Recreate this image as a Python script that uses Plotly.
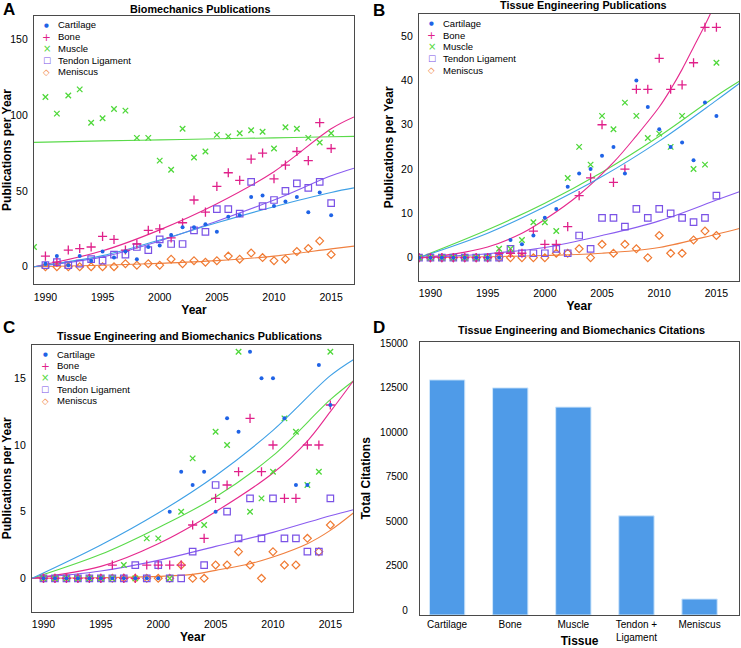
import plotly.graph_objects as go

# ---------------- data ----------------
years = list(range(1989, 2016))

# Panel A: Biomechanics publications per year
bio_cartilage = [None, 2, 7, 1, 7, 4, 10, 6, 10, 5, 13, 14, 21, 26, 26, 28, 23, 33, 34, 46, 47, 40, 43, 46, 36, 49, 34]
bio_bone = [None, 7, 3, 11, 12, 13, 20, 18, 11, 15, 24, 25, 19, 29, 44, 36, 53, 62, 57, 71, 75, 58, 67, 76, 70, 95, 78]
bio_muscle = [13, 112, 101, 113, 117, 95, 98, 104, 103, 85, 85, 70, 64, 91, 72, 76, 87, 86, 88, 90, 89, 78, 92, 91, 85, 82, 88]
bio_tendon = [None, 1, 3, 1, 2, 5, 4, 8, 8, 13, 11, 18, 15, 15, 24, 23, 38, 38, 35, 56, 40, 44, 50, 55, 52, 56, 42]
bio_meniscus = [None, 0, 0, 0, 0, 0, 0, 0, 2, 1, 2, 1, 5, 2, 4, 3, 4, 7, 5, 9, 6, 4, 5, 10, 12, 17, 8]

# Panel B: Tissue engineering publications per year
te_cartilage = [0, 0, 0, 0, 0, 0, 0, 0, 4, 3, 5, 9, 11, 16, 19, 20, 23, 25, 19, 40, 34, 29, 25, 26, 22, 35, 32]
te_bone = [0, 0, 0, 0, 0, 0, 0, 1, 1, 1, 6, 3, 3, 7, 14, 18, 30, 17, 20, 38, 38, 45, 38, 39, 44, 52, 52]
te_muscle = [0, 0, 0, 0, 0, 0, 0, 2, 2, 4, 8, 8, 6, 18, 25, 21, 32, 29, 35, 32, 27, 28, 25, 32, 20, 21, 44]
te_tendon = [0, 0, 0, 0, 0, 0, 0, 0, 2, 1, 1, 1, 2, 1, 5, 2, 9, 9, 7, 11, 9, 11, 10, 9, 8, 9, 14]
te_meniscus = [0, 0, 0, 0, 0, 0, 0, 0, 0, 0, 0, 0, 1, 1, 2, 0, 3, 1, 3, 2, 0, 5, 1, 1, 4, 6, 5]

# Panel C: Tissue engineering AND biomechanics publications per year
both_cartilage = [None, 0, 0, 0, 0, 0, 0, 0, 0, 0, 0, 0, 5, 8, 7, 8, 5, 12, 11, 17, 15, 15, 12, 7, 7, 16, 13]
both_bone = [None, 0, 0, 0, 0, 0, 0, 1, 0, 0, 1, 1, 1, 1, 4, 3, 6, 7, 8, 12, 8, 10, 6, 6, 10, 10, 13]
both_muscle = [None, 0, 0, 0, 0, 0, 0, 0, 1, 0, 3, 3, 0, 5, 9, 4, 11, 10, 17, 5, 6, 8, 12, 11, 7, 8, 17]
both_tendon = [None, 0, 0, 0, 0, 0, 0, 0, 0, 1, 0, 1, 0, 0, 2, 1, 7, 5, 3, 6, 3, 6, 3, 3, 2, 2, 6]
both_meniscus = [None, 0, 0, 0, 0, 0, 0, 0, 0, 0, 0, 0, 0, 1, 0, 0, 1, 1, 2, 1, 0, 2, 1, 1, 3, 2, 4]

# Fitted trend curves
fit_years = [1989, 1995, 2000, 2005, 2010, 2015, 2017]
fitA_cartilage = [0, 7.3, 17.6, 29, 39.6, 49, 52]
fitA_bone = [0, 10.5, 24.3, 41.5, 62.7, 91, 98.8]
fitA_muscle = [82, 83, 83.7, 84.4, 85, 85.7, 86]
fitA_tendon = [0, 6.5, 17, 30, 44, 60, 65]
fitA_meniscus = [0, 1, 2.2, 4, 7, 11.8, 13.6]

fitB_cartilage = [0, 5.5, 11.5, 18.3, 26.3, 35.5, 39.3]
fitB_muscle = [0, 6.3, 12.3, 19.3, 27.4, 36.5, 39.8]
fitB_tendon = [0, 0.9, 2.3, 5, 8.3, 13, 14.9]
fitB_meniscus = [0, 0.2, 0.5, 1.0, 2.3, 5.3, 6.6]
fitB_bone_years = [1989, 1992, 1995, 1998, 2000, 2003, 2006, 2008, 2010, 2011, 2012, 2013, 2014, 2015, 2017]
fitB_bone = [0, 0.8, 2.4, 5.5, 8.6, 14.2, 21.5, 27.5, 34, 38, 42.5, 47.5, 52.5, 58, 70]

fitC_cartilage = [0, 2.5, 4.9, 7.7, 11.1, 15.2, 16.4]
fitC_muscle = [0, 1.8, 3.8, 6.1, 9.2, 13.4, 14.8]
fitC_tendon = [0, 0.55, 1.35, 2.4, 3.45, 4.7, 5.15]
fitC_bone_years = [1989, 1995, 2000, 2005, 2010, 2013, 2015, 2017]
fitC_bone = [0, 0.9, 2.6, 5.0, 7.9, 10.3, 12.5, 14.8]
fitC_meniscus_years = [1989, 1995, 2000, 2003, 2005, 2008, 2010, 2013, 2015, 2017]
fitC_meniscus = [0, 0.05, 0.15, 0.3, 0.6, 1.1, 1.6, 2.6, 3.6, 4.9]

# Panel D: total citations
tissues = ["Cartilage", "Bone", "Muscle", "Tendon +<br>Ligament", "Meniscus"]
citations = [12950, 12500, 11420, 5300, 620]

series_names = ["Cartilage", "Bone", "Muscle", "Tendon Ligament", "Meniscus"]

# ---------------- style ----------------
W, H = 741, 648
FONT = "Liberation Sans, Arial, Helvetica, sans-serif"
C_CART = "#1f63e6"
C_BONE = "#e0208a"
C_MUSC = "#4fd83a"
C_TEND = "#7a52e6"
C_MENI = "#f07a32"
L_CART = "#3fa0e6"
L_BONE = "#e62a8e"
L_MUSC = "#5ada4a"
L_TEND = "#8a5cf0"
L_MENI = "#f08040"

marker_styles = [
    dict(symbol="circle", size=4, color=C_CART, line=dict(width=0)),
    dict(symbol="cross-thin", size=6.5, color=C_BONE, line=dict(width=1.3, color=C_BONE)),
    dict(symbol="x-thin", size=5.5, color=C_MUSC, line=dict(width=1.3, color=C_MUSC)),
    dict(symbol="square-open", size=6.5, color=C_TEND, line=dict(width=1.2, color=C_TEND)),
    dict(symbol="diamond-open", size=6, color=C_MENI, line=dict(width=1.2, color=C_MENI)),
]
line_colors = [L_CART, L_BONE, L_MUSC, L_TEND, L_MENI]


def px_x(p):
    return p / W


def px_y(p):
    return 1 - p / H


fig = go.Figure()

panels = [
    ("x", "y", [bio_cartilage, bio_bone, bio_muscle, bio_tendon, bio_meniscus],
     [(fit_years, fitA_cartilage), (fit_years, fitA_bone), (fit_years, fitA_muscle),
      (fit_years, fitA_tendon), (fit_years, fitA_meniscus)]),
    ("x2", "y2", [te_cartilage, te_bone, te_muscle, te_tendon, te_meniscus],
     [(fit_years, fitB_cartilage), (fitB_bone_years, fitB_bone), (fit_years, fitB_muscle),
      (fit_years, fitB_tendon), (fit_years, fitB_meniscus)]),
    ("x3", "y3", [both_cartilage, both_bone, both_muscle, both_tendon, both_meniscus],
     [(fit_years, fitC_cartilage), (fitC_bone_years, fitC_bone), (fit_years, fitC_muscle),
      (fit_years, fitC_tendon), (fitC_meniscus_years, fitC_meniscus)]),
]

draw_order = [4, 3, 2, 1, 0]
for xa, ya, data, fits in panels:
    for i in draw_order:
        fx, fy = fits[i]
        fig.add_trace(go.Scatter(x=fx, y=fy, mode="lines", xaxis=xa, yaxis=ya,
                                 line=dict(color=line_colors[i], width=1.1, shape="spline"),
                                 showlegend=False, hoverinfo="skip"))
    for i in draw_order:
        fig.add_trace(go.Scatter(x=years, y=data[i], mode="markers", xaxis=xa, yaxis=ya,
                                 marker=marker_styles[i], name=series_names[i],
                                 showlegend=False, cliponaxis=True))

# Panel D bars (drawn up from the bottom of the frame)
D_MIN = -280
fig.add_trace(go.Bar(x=tissues, y=[v - D_MIN for v in citations], base=[D_MIN] * len(citations),
                     xaxis="x4", yaxis="y4", width=0.56,
                     marker=dict(color="#4f9be8", line=dict(color="#cfe6fb", width=1)),
                     showlegend=False))

axis_common = dict(showline=True, mirror=True, linecolor="#4a4a4a", linewidth=1.2,
                   showgrid=False, zeroline=False, ticks="", ticklen=0, color="black",
                   automargin=False, ticklabeloverflow="allow",
                   tickfont=dict(size=10.5, family=FONT, color="black"))
title_font = dict(size=12, family=FONT, color="black")

frames = {
    "A": (34, 354, 16, 284),
    "B": (419, 739.3, 14, 280.7),
    "C": (32, 353.3, 345, 611.7),
    "D": (420, 739.3, 341.7, 615),
}


def dom(fr):
    l, r, t, b = fr
    return [px_x(l), px_x(r)], [px_y(b), px_y(t)]


xA, yA = dom(frames["A"])
xB, yB = dom(frames["B"])
xC, yC = dom(frames["C"])
xD, yD = dom(frames["D"])

year_ticks = [1990, 1995, 2000, 2005, 2010, 2015]

fig.update_layout(
    width=W, height=H, margin=dict(l=0, r=0, t=0, b=0, autoexpand=False),
    paper_bgcolor="white", plot_bgcolor="white",
    font=dict(family=FONT, color="black"),
    showlegend=False,
    xaxis=dict(axis_common, domain=xA, range=[1989, 2017], tickvals=year_ticks, anchor="y",
               ticklabelstandoff=3,
               title=dict(text="<b>Year</b>", font=title_font, standoff=2)),
    yaxis=dict(axis_common, domain=yA, range=[-11.4, 165.4], tickvals=[0, 50, 100, 150], anchor="x",
               ticklabelstandoff=3,
               title=dict(text="<b>Publications per Year</b>", font=title_font, standoff=4)),
    xaxis2=dict(axis_common, domain=xB, range=[1989, 2017], tickvals=year_ticks, anchor="y2",
                ticklabelstandoff=3,
                title=dict(text="<b>Year</b>", font=title_font, standoff=2)),
    yaxis2=dict(axis_common, domain=yB, range=[-5.2, 55], tickvals=[0, 10, 20, 30, 40, 50], anchor="x2",
                ticklabelstandoff=3,
                title=dict(text="<b>Publications per Year</b>", font=title_font, standoff=4)),
    xaxis3=dict(axis_common, domain=xC, range=[1989, 2017], tickvals=year_ticks, anchor="y3",
                ticklabelstandoff=3,
                title=dict(text="<b>Year</b>", font=title_font, standoff=2)),
    yaxis3=dict(axis_common, domain=yC, range=[-2.5, 17.5], tickvals=[0, 5, 10, 15], anchor="x3",
                ticklabelstandoff=3,
                title=dict(text="<b>Publications per Year</b>", font=title_font, standoff=4)),
    xaxis4=dict(axis_common, domain=xD, range=[-0.43, 4.63], type="category", anchor="y4",
                ticklabelstandoff=0, tickfont=dict(size=10, family=FONT, color="black"),
                title=dict(text="<b>Tissue</b>", font=title_font, standoff=0)),
    yaxis4=dict(axis_common, domain=yD, range=[D_MIN, 15100], tickvals=[0, 2500, 5000, 7500, 10000, 12500, 15000],
                tickformat="d", anchor="x4", ticklabelstandoff=9,
                tickfont=dict(size=10, family=FONT, color="black"),
                title=dict(text="<b>Total Citations</b>", font=title_font, standoff=6)),
)

annotations = []


def ann(text, x, y, size, bold=False, xanchor="center", color="black", family=FONT):
    annotations.append(dict(text=f"<b>{text}</b>" if bold else text, x=px_x(x), y=px_y(y),
                            xref="paper", yref="paper", xanchor=xanchor, yanchor="middle",
                            showarrow=False, borderpad=0,
                            font=dict(size=size, family=family, color=color)))


# panel titles
ann("Biomechanics Publications", 200, 8.5, 10.8, bold=True)
ann("Tissue Engineering Publications", 583, 5.5, 10.8, bold=True)
ann("Tissue Engineering and Biomechanics Publications", 190, 336, 10.8, bold=True)
ann("Tissue Engineering and Biomechanics Citations", 581, 330, 10.8, bold=True)

# panel letters
ann("A", 9, 10, 17, bold=True)
ann("B", 379, 11, 17, bold=True)
ann("C", 9, 327, 17, bold=True)
ann("D", 379, 327, 17, bold=True)

# compact legends (text keys)
legend_syms = ["\u25CF", "+", "\u00D7", "\u25A1", "\u25C7"]
legend_sizes = [5.5, 10.5, 10, 8.5, 8.5]
legend_cols = [C_CART, C_BONE, C_MUSC, C_TEND, C_MENI]
legend_pos = [(46.5, 25), (431.5, 23.3), (45, 354)]
for (sx, sy) in legend_pos:
    for k in range(5):
        yy = sy + 11.7 * k
        ann(legend_syms[k], sx, yy, legend_sizes[k], color=legend_cols[k], family="DejaVu Sans")
        ann(series_names[k], sx + 10.5, yy, 9.5, xanchor="left")

fig.update_layout(annotations=annotations)

# remove the browser's default page margin so the figure fills the window exactly
fig.write_html("out.html", config={"displayModeBar": False},
               post_script="document.body.style.margin='0px';document.body.style.padding='0px';")
